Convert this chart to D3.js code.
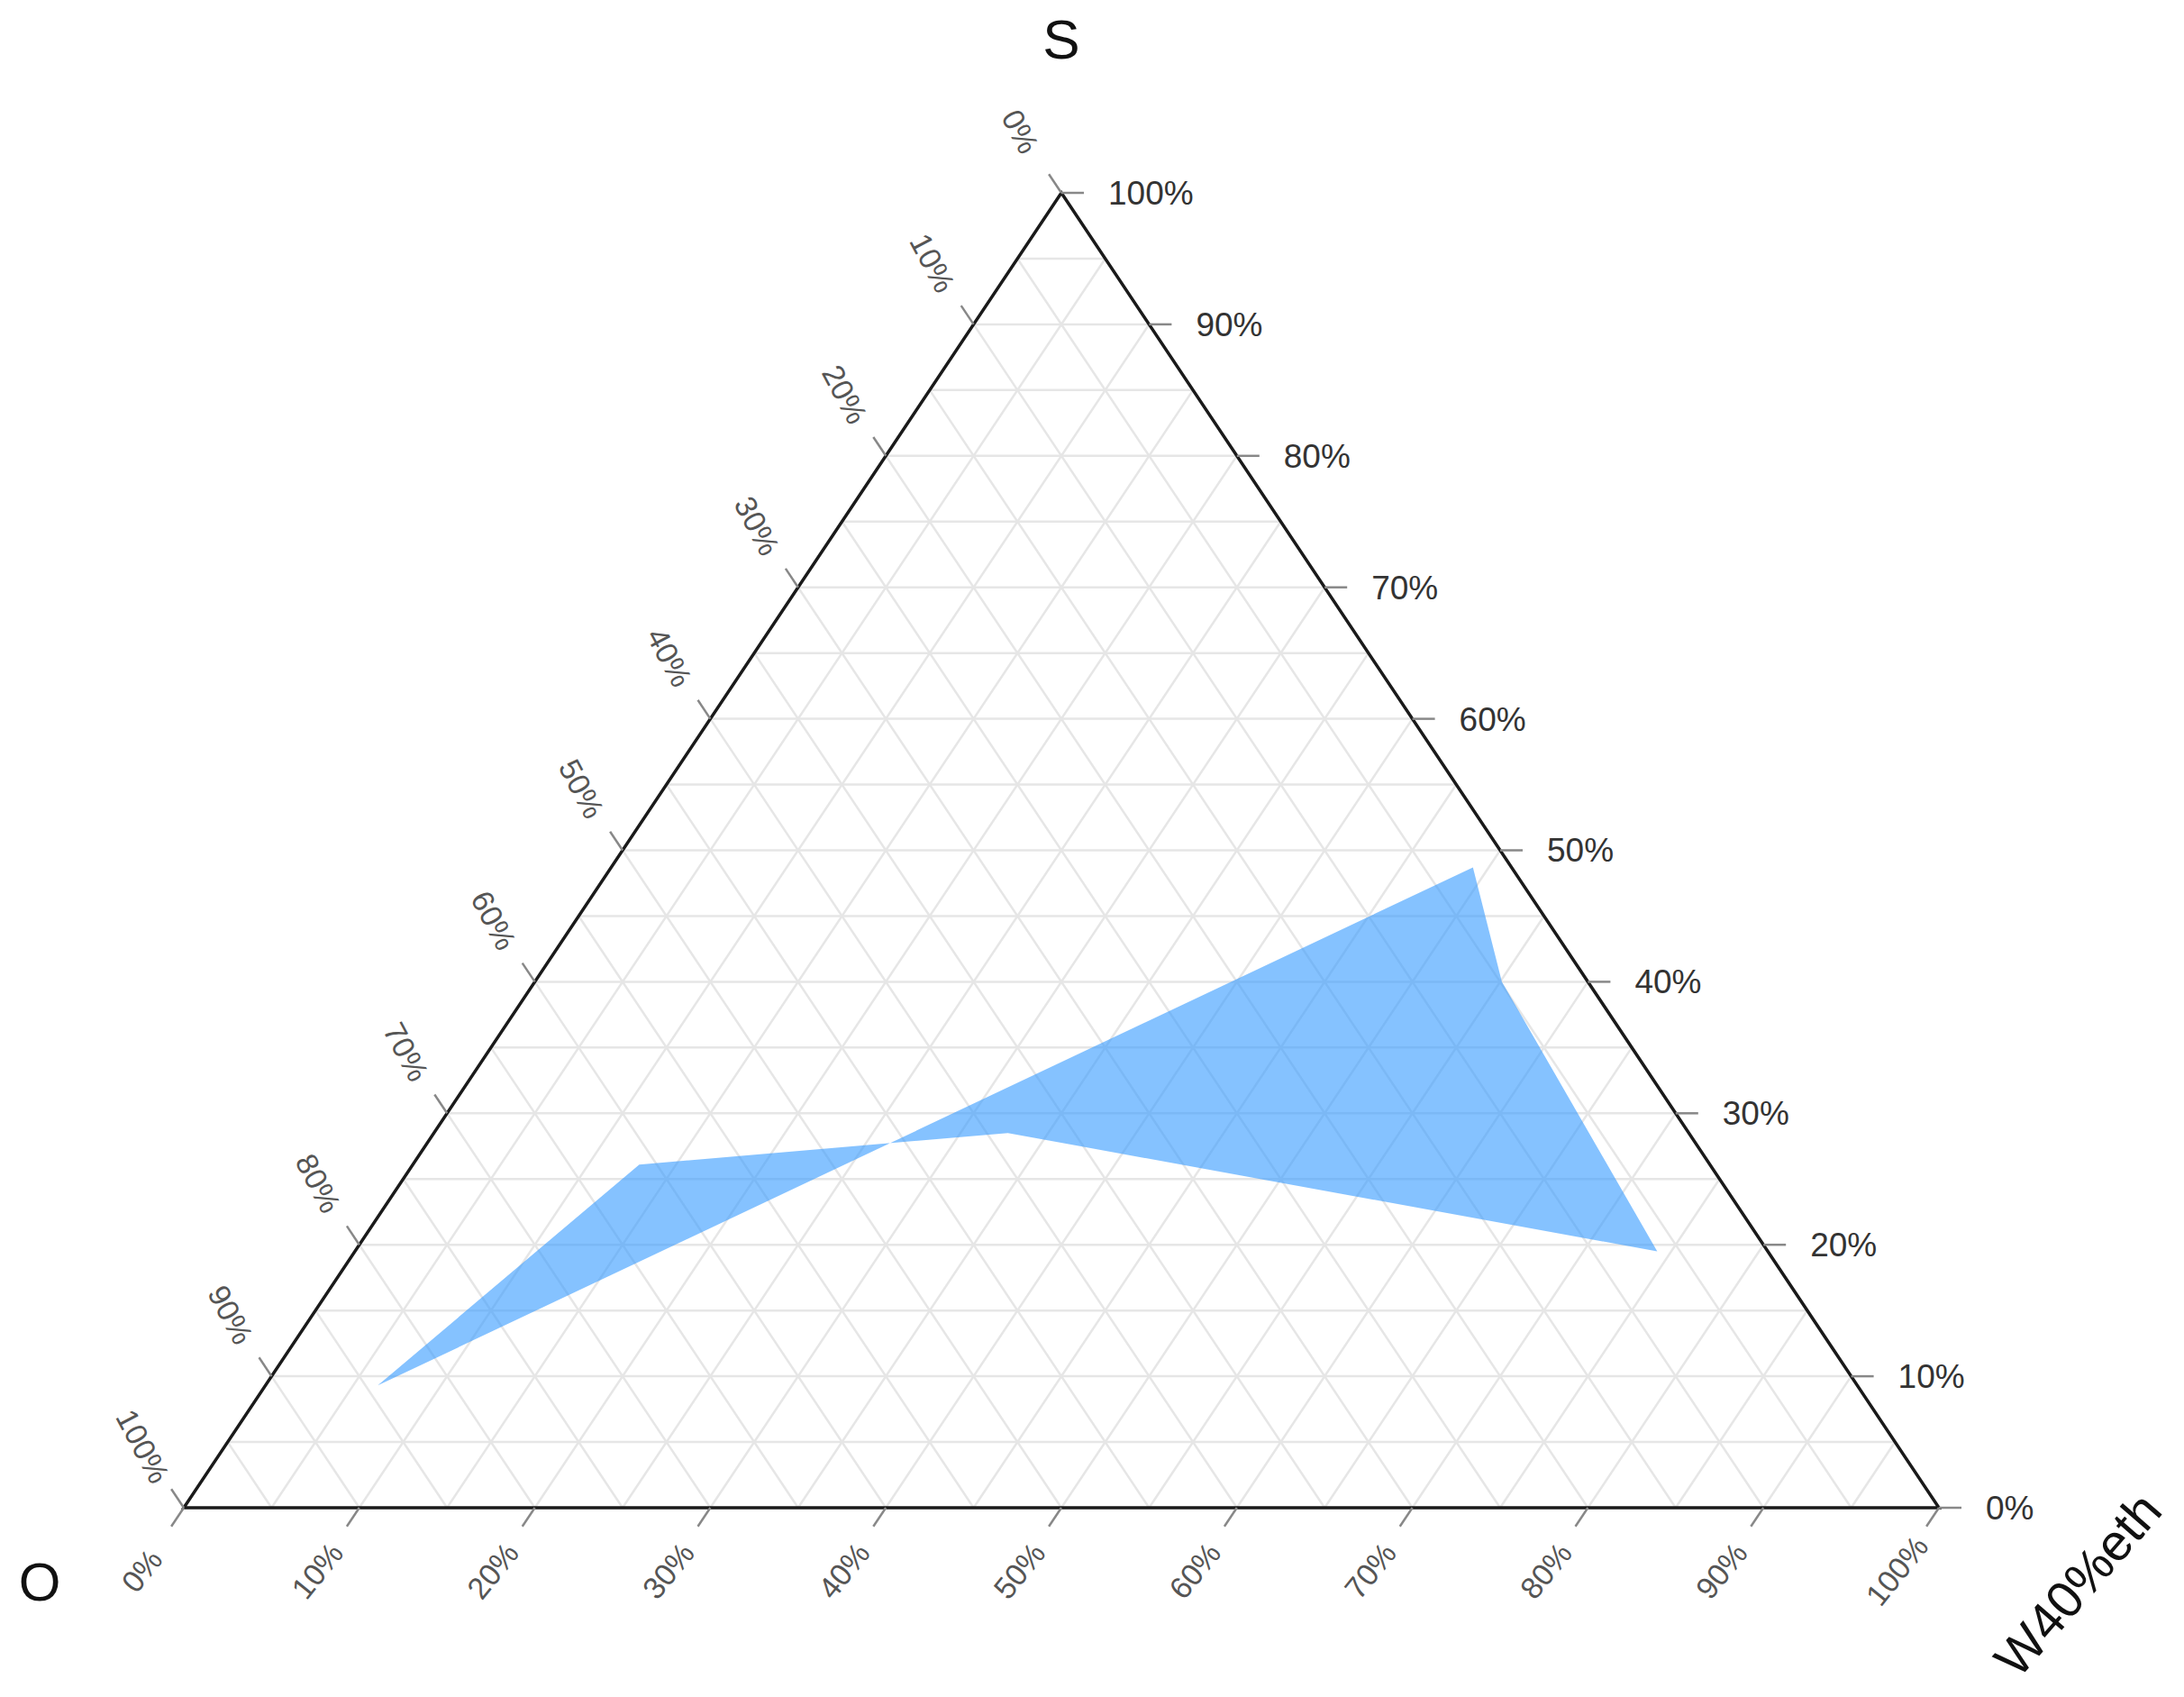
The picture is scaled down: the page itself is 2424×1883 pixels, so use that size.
<!DOCTYPE html>
<html>
<head>
<meta charset="utf-8">
<script src="https://cdn.jsdelivr.net/npm/d3@7"></script>
<style>
  body { margin: 0; background: #fff; }
  text { font-family: "Liberation Sans", Arial, sans-serif; }
</style>
</head>
<body>
<div id="chart"></div>
<script>
// composition of the shaded region (S, O, W40%eth), one entry per vertex
const sValues = [0.093, 0.261, 0.285, 0.195, 0.400, 0.487];
const oValues = [0.843, 0.610, 0.388, 0.063, 0.049, 0.022];
const wValues = [0.064, 0.129, 0.327, 0.742, 0.551, 0.491];

const tickValues = [0, 0.1, 0.2, 0.3, 0.4, 0.5, 0.6, 0.7, 0.8, 0.9, 1];
const gridValues = [0.05, 0.1, 0.15, 0.2, 0.25, 0.3, 0.35, 0.4, 0.45, 0.5,
                    0.55, 0.6, 0.65, 0.7, 0.75, 0.8, 0.85, 0.9, 0.95];
const axisTitles = ["S", "O", "W40%eth"];

const width = 2424, height = 1883;

// base runs along W, height along S
const xScale = d3.scaleLinear().domain([0, 1]).range([204, 2152]);
const yScale = d3.scaleLinear().domain([0, 1]).range([1673, 214]);

function project(s, o, w) {
    return [xScale(w + s / 2), yScale(s)];
}

const svg = d3.select("#chart")
    .append("svg")
    .attr("width", width)
    .attr("height", height);

svg.append("rect")
    .attr("width", width)
    .attr("height", height)
    .attr("fill", "#fff");

// Grid lines every 5%
const grid = svg.append("g")
    .attr("stroke", "#e6e6e6")
    .attr("stroke-width", 2.5)
    .attr("fill", "none");

const gridLines = [];
gridValues.forEach(v => {
    gridLines.push([project(v, 1 - v, 0), project(v, 0, 1 - v)]);   // constant S
    gridLines.push([project(1 - v, v, 0), project(0, v, 1 - v)]);   // constant O
    gridLines.push([project(1 - v, 0, v), project(0, 1 - v, v)]);   // constant W
});
grid.selectAll("line")
    .data(gridLines)
    .enter()
    .append("line")
    .attr("x1", d => d[0][0])
    .attr("y1", d => d[0][1])
    .attr("x2", d => d[1][0])
    .attr("y2", d => d[1][1]);

// Shaded region
const regionData = sValues.map((s, i) => project(s, oValues[i], wValues[i]));
svg.append("path")
    .datum(regionData)
    .attr("d", d3.line().curve(d3.curveLinearClosed))
    .attr("fill", "#3399ff")
    .attr("fill-opacity", 0.6)
    .attr("stroke", "none");

// Triangle outline
const corners = [project(1, 0, 0), project(0, 1, 0), project(0, 0, 1)];
svg.append("path")
    .datum(corners)
    .attr("d", d3.line().curve(d3.curveLinearClosed))
    .attr("fill", "none")
    .attr("stroke", "#1a1a1a")
    .attr("stroke-width", 3.5)
    .attr("stroke-linejoin", "miter");

const fmt = d3.format(".0%");
const tickLen = 25;
const ticks = svg.append("g");

// direction of the right edge (up-left) and left edge (down-left)
const rightDir = (() => {
    const a = project(1, 0, 0), b = project(0, 0, 1);
    const dx = a[0] - b[0], dy = a[1] - b[1], l = Math.hypot(dx, dy);
    return [dx / l, dy / l];
})();
const leftDir = (() => {
    const a = project(0, 1, 0), b = project(1, 0, 0);
    const dx = a[0] - b[0], dy = a[1] - b[1], l = Math.hypot(dx, dy);
    return [dx / l, dy / l];
})();

// S axis: right edge, horizontal ticks
tickValues.forEach(v => {
    const p = project(v, 0, 1 - v);
    ticks.append("line")
        .attr("x1", p[0]).attr("y1", p[1])
        .attr("x2", p[0] + tickLen).attr("y2", p[1])
        .attr("stroke", "#888").attr("stroke-width", 2.5);
    ticks.append("text")
        .attr("x", p[0] + 52)
        .attr("y", p[1])
        .attr("dy", "0.35em")
        .style("font-size", "37px")
        .style("fill", "#333")
        .text(fmt(v));
});

// O axis: left edge, 0% at top, 100% at bottom-left
tickValues.forEach(v => {
    const p = project(1 - v, v, 0);
    ticks.append("line")
        .attr("x1", p[0]).attr("y1", p[1])
        .attr("x2", p[0] + rightDir[0] * tickLen).attr("y2", p[1] + rightDir[1] * tickLen)
        .attr("stroke", "#888").attr("stroke-width", 2.5);
    const cx = p[0] + rightDir[0] * 82, cy = p[1] + rightDir[1] * 82;
    ticks.append("text")
        .attr("transform", `translate(${cx},${cy}) rotate(62)`)
        .attr("text-anchor", "middle")
        .attr("dy", "0.35em")
        .style("font-size", "34px")
        .style("fill", "#555")
        .text(fmt(v));
});

// W axis: bottom edge, 0% at left, 100% at right
tickValues.forEach(v => {
    const p = project(0, 1 - v, v);
    ticks.append("line")
        .attr("x1", p[0]).attr("y1", p[1])
        .attr("x2", p[0] + leftDir[0] * tickLen).attr("y2", p[1] + leftDir[1] * tickLen)
        .attr("stroke", "#888").attr("stroke-width", 2.5);
    const cx = p[0] + leftDir[0] * 84, cy = p[1] + leftDir[1] * 84;
    ticks.append("text")
        .attr("transform", `translate(${cx},${cy}) rotate(-51)`)
        .attr("text-anchor", "middle")
        .attr("dy", "0.35em")
        .style("font-size", "34px")
        .style("fill", "#555")
        .text(fmt(v));
});

// Axis titles
svg.append("text")
    .attr("x", xScale(0.5))
    .attr("y", 43)
    .attr("text-anchor", "middle")
    .attr("dy", "0.35em")
    .style("font-size", "62px")
    .style("fill", "#111")
    .text(axisTitles[0]);

svg.append("text")
    .attr("x", 44)
    .attr("y", 1755)
    .attr("text-anchor", "middle")
    .attr("dy", "0.35em")
    .style("font-size", "60px")
    .style("fill", "#111")
    .text(axisTitles[1]);

svg.append("text")
    .attr("transform", "translate(2306,1758) rotate(-49)")
    .attr("text-anchor", "middle")
    .attr("dy", "0.35em")
    .style("font-size", "57px")
    .style("fill", "#111")
    .text(axisTitles[2]);
</script>
</body>
</html>
